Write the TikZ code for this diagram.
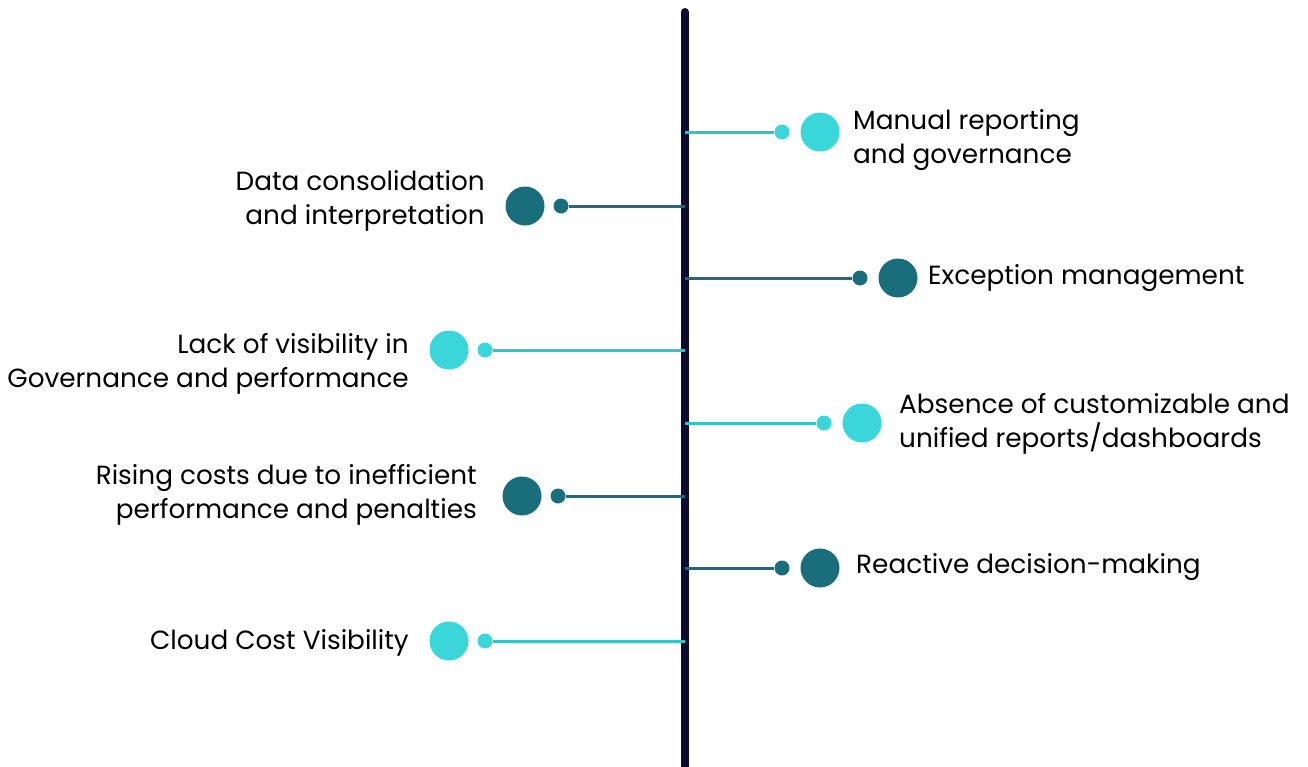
\documentclass[tikz,border=0pt]{standalone}
\usepackage{fontspec}
\setmainfont{Poppins}
\definecolor{spinecol}{HTML}{0A0A35}
\definecolor{cyandot}{HTML}{3AD6D9}
\definecolor{cyanline}{HTML}{30C4CB}
\definecolor{tealdot}{HTML}{1A6E7C}
\begin{document}
\begin{tikzpicture}[x=1pt,y=-1pt]
        \useasboundingbox (0,0) rectangle (1308,766);
        \tikzstyle{every node}= [circle,inner sep=0pt];
        \tikzstyle{smalldot}= [minimum size=15pt];
        \tikzstyle{bigdot}= [minimum size=39pt];
        \tikzstyle{lbl}= [rectangle,text=black,font=\fontsize{26.3}{34}\selectfont];
        % spine
        \coordinate (top) at (685,12);
        \coordinate (bot) at (685,780);
        \draw[spinecol,line width=8pt,line cap=round] (top) -- (bot);
        % right branches
        \foreach \n/\x/\y/\d/\l in {r1/782/132/cyandot/cyanline,r2/860/278/tealdot/tealdot,
                                    r3/824/423/cyandot/cyanline,r4/782/568/tealdot/tealdot}{
          \coordinate (\n0) at (685,\y);
          \node[smalldot,fill=\d](\n1) at (\x,\y) {};
          \node[bigdot,fill=\d](\n2) at (\x+38,\y) {};
          \draw[\l,line width=3pt] (\n0) -- (\n1);
        }
        % left branches
        \foreach \n/\x/\y/\d/\l in {l1/561/206/tealdot/tealdot,l2/485/350/cyandot/cyanline,
                                    l3/558/496/tealdot/tealdot,l4/485/641/cyandot/cyanline}{
          \coordinate (\n0) at (685,\y);
          \node[smalldot,fill=\d](\n1) at (\x,\y) {};
          \node[bigdot,fill=\d](\n2) at (\x-36,\y) {};
          \draw[\l,line width=3pt] (\n0) -- (\n1);
        }
        % labels
        \node[lbl,anchor=west,align=left](tr1) at (853,140) {Manual reporting\\and governance};
        \node[lbl,anchor=west](tr2) at (928,278) {Exception management};
        \node[lbl,anchor=west,align=left](tr3) at (899,424) {Absence of customizable and\\unified reports/dashboards};
        \node[lbl,anchor=west](tr4) at (856,567) {Reactive decision-making};
        \node[lbl,anchor=east,align=right](tl1) at (485,201) {Data consolidation\\and interpretation};
        \node[lbl,anchor=east,align=right](tl2) at (409,364) {Lack of visibility in\\Governance and performance};
        \node[lbl,anchor=east,align=right](tl3) at (477,495) {Rising costs due to inefficient\\performance and penalties};
        \node[lbl,anchor=east](tl4) at (409,643) {Cloud Cost Visibility};
      \end{tikzpicture}
\end{document}
